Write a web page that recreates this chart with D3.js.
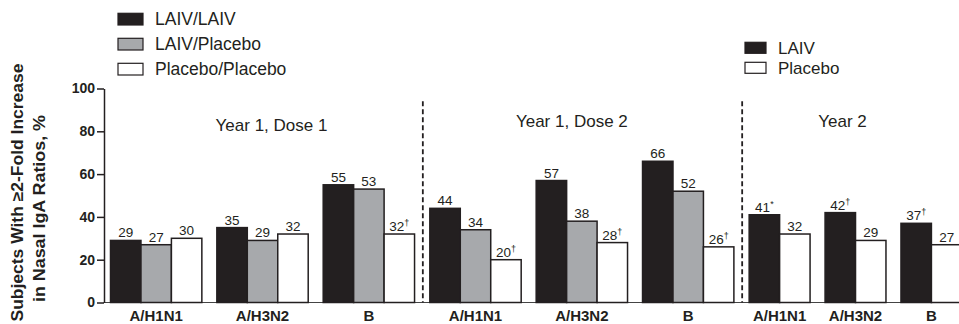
<!DOCTYPE html>
<html>
<head>
<meta charset="utf-8">
<title>Nasal IgA responses</title>
<script src="https://cdn.jsdelivr.net/npm/d3@7"></script>
<style>
  body { margin: 0; background: #fff; }
  svg { display: block; font-family: "Liberation Sans", Arial, Helvetica, sans-serif; }
  text, tspan { fill: #231f20; }
</style>
</head>
<body>
<div id="chart"></div>
<script>
const sections = ["Year 1, Dose 1", "Year 1, Dose 2", "Year 2"];
const strains = ["A/H1N1", "A/H3N2", "B"];
const year1Groups = ["LAIV/LAIV", "LAIV/Placebo", "Placebo/Placebo"];
const year2Groups = ["LAIV", "Placebo"];
// rows = strain, columns = group
const dose1Values = [[29, 27, 30], [35, 29, 32], [55, 53, 32]];
const dose1Notes = [["", "", ""], ["", "", ""], ["", "", "\u2020"]];
const dose2Values = [[44, 34, 20], [57, 38, 28], [66, 52, 26]];
const dose2Notes = [["", "", "\u2020"], ["", "", "\u2020"], ["", "", "\u2020"]];
const year2Values = [[41, 32], [42, 29], [37, 27]];
const year2Notes = [["*", ""], ["\u2020", ""], ["\u2020", ""]];
const yTicks = [0, 20, 40, 60, 80, 100];
const yTitle = ["Subjects With \u22652-Fold Increase", "in Nasal IgA Ratios, %"];

const colors = {
  "LAIV/LAIV": "#231f20", "LAIV/Placebo": "#a7a9ac", "Placebo/Placebo": "#ffffff",
  "LAIV": "#231f20", "Placebo": "#ffffff"
};
const ink = "#231f20";

const panels = [
  { name: sections[0], groups: year1Groups, values: dose1Values, notes: dose1Notes },
  { name: sections[1], groups: year1Groups, values: dose2Values, notes: dose2Notes },
  { name: sections[2], groups: year2Groups, values: year2Values, notes: year2Notes }
];

const width = 959, height = 324;
const barW = 30.45, gap = 15, inset = 7;
const titleShift = [9, -10, -13];
const titleY = [131, 126.5, 126.5];

const svg = d3.select("#chart").append("svg")
  .attr("width", width)
  .attr("height", height);

const y = d3.scaleLinear().domain([0, 100]).range([302.5, 88.5]);
const x = d3.scaleBand().domain(sections).range([103.5, 1061.5]);

// baseline
svg.append("line")
  .attr("x1", x.range()[0]).attr("x2", width)
  .attr("y1", y(0)).attr("y2", y(0))
  .attr("stroke", "#444").attr("stroke-width", 1.2);

panels.forEach((p, i) => {
  const x0 = x(p.name);
  const step = p.groups.length * barW + gap;
  const gx = d3.scaleBand()
    .domain(strains)
    .range([x0 + inset, x0 + inset + strains.length * step - gap])
    .paddingInner(gap / step)
    .paddingOuter(0);
  const bx = d3.scaleBand().domain(p.groups).range([0, gx.bandwidth()]);

  const cells = [];
  strains.forEach((s, si) => {
    p.groups.forEach((g, gi) => {
      cells.push({ strain: s, group: g, value: p.values[si][gi], note: p.notes[si][gi] });
    });
  });

  const panel = svg.append("g");

  panel.selectAll("rect")
    .data(cells)
    .enter()
    .append("rect")
    .attr("x", d => gx(d.strain) + bx(d.group))
    .attr("y", d => y(d.value))
    .attr("width", bx.bandwidth())
    .attr("height", d => y(0) - y(d.value))
    .attr("fill", d => colors[d.group])
    .attr("stroke", ink)
    .attr("stroke-width", 1.5);

  const labels = panel.selectAll("text.val")
    .data(cells)
    .enter()
    .append("text")
    .attr("class", "val")
    .attr("x", d => gx(d.strain) + bx(d.group) + bx.bandwidth() / 2)
    .attr("y", d => y(d.value) - 3)
    .attr("text-anchor", "middle")
    .style("font-size", "13.5px");
  labels.append("tspan").text(d => d.value);
  labels.filter(d => d.note).append("tspan")
    .attr("dy", -5)
    .attr("fill", ink)
    .style("font-size", "9px")
    .text(d => d.note);

  // strain labels
  panel.selectAll("text.strain")
    .data(strains)
    .enter()
    .append("text")
    .attr("class", "strain")
    .attr("x", d => gx(d) + gx.bandwidth() / 2)
    .attr("y", 321)
    .attr("text-anchor", "middle")
    .style("font-size", "15px")
    .style("font-weight", "bold")
    .text(d => d);

  // section title
  const mid = (gx.range()[0] + gx.range()[1]) / 2;
  panel.append("text")
    .attr("x", mid + titleShift[i])
    .attr("y", titleY[i])
    .attr("text-anchor", "middle")
    .style("font-size", "17px")
    .text(p.name);

  if (i > 0) {
    panel.append("line")
      .attr("x1", x0).attr("x2", x0)
      .attr("y1", y(94)).attr("y2", y(0))
      .attr("stroke", ink)
      .attr("stroke-width", 1.8)
      .attr("stroke-dasharray", "5,3");
  }
});

// y axis
const yAxis = svg.append("g")
  .attr("transform", "translate(104,0)")
  .call(d3.axisLeft(y).tickValues(yTicks).tickSizeInner(7).tickSizeOuter(0).tickPadding(2));
yAxis.select(".domain").attr("stroke", ink).attr("stroke-width", 1.5);
yAxis.selectAll(".tick line").attr("stroke", ink).attr("stroke-width", 1.5);
yAxis.selectAll(".tick text")
  .attr("fill", ink)
  .style("font-family", "\"Liberation Sans\", Arial, Helvetica, sans-serif")
  .style("font-size", "14px")
  .style("font-weight", "bold");

// y title
const titlePos = [{ x: 23, y: 192.5, len: 258 }, { x: 45, y: 208.5, len: 187 }];
svg.selectAll("text.ytitle")
  .data(yTitle)
  .enter()
  .append("text")
  .attr("class", "ytitle")
  .attr("transform", (d, i) => `translate(${titlePos[i].x},${titlePos[i].y}) rotate(-90)`)
  .attr("text-anchor", "middle")
  .attr("textLength", (d, i) => titlePos[i].len)
  .attr("lengthAdjust", "spacingAndGlyphs")
  .style("font-size", "16px")
  .style("font-weight", "bold")
  .text(d => d);

// legend, year 1 groups
const leg1 = svg.append("g").attr("transform", "translate(118,13.3)");
const row1 = leg1.selectAll("g")
  .data(year1Groups)
  .enter()
  .append("g")
  .attr("transform", (d, i) => `translate(0,${i * 25})`);
row1.append("rect")
  .attr("width", 25).attr("height", 11.7)
  .attr("fill", d => colors[d])
  .attr("stroke", ink).attr("stroke-width", 1.2);
row1.append("text")
  .attr("x", 37).attr("y", 11.7)
  .style("font-size", "17.5px")
  .text(d => d);

// legend, year 2 groups
const leg2 = svg.append("g").attr("transform", "translate(745,42.3)");
const row2 = leg2.selectAll("g")
  .data(year2Groups)
  .enter()
  .append("g")
  .attr("transform", (d, i) => `translate(0,${i * 20})`);
row2.append("rect")
  .attr("width", 21).attr("height", 11)
  .attr("fill", d => colors[d])
  .attr("stroke", ink).attr("stroke-width", 1.2);
row2.append("text")
  .attr("x", 33).attr("y", 11.6)
  .style("font-size", "17px")
  .text(d => d);
</script>
</body>
</html>
